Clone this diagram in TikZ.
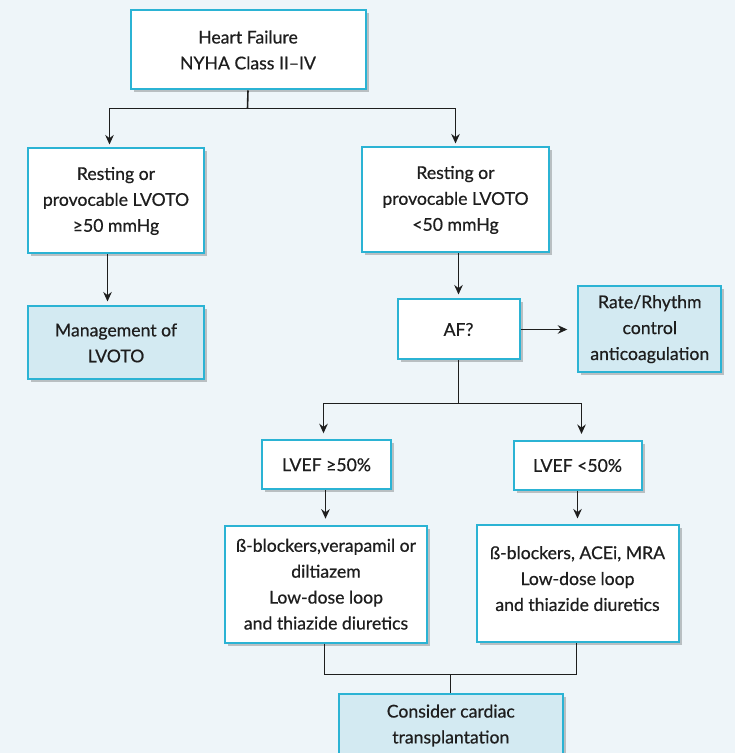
\documentclass[tikz,border=0pt]{standalone}
\usepackage{fontspec}
\setmainfont{Lato}[UprightFeatures={FakeBold=0.6}]
\usetikzlibrary{shadows,calc,arrows.meta}
\definecolor{bg}{HTML}{EEF5F9}
\definecolor{cyanb}{HTML}{2BB3D4}
\definecolor{fillb}{HTML}{D3EAF2}
\definecolor{ink}{HTML}{1E1E1E}
\begin{document}
\begin{tikzpicture}[x=1bp,y=1bp,
  box/.style={draw=cyanb, line width=2bp, fill=white, align=center, inner sep=0pt,
    font=\fontsize{17.7}{26}\selectfont, text=ink,
    drop shadow={shadow xshift=3bp, shadow yshift=-3bp, opacity=0.22, fill=black}},
  tbox/.style={box, fill=fillb},
  conn/.style={draw=ink, line width=1.6bp},
  arr/.style={conn, -{Stealth[length=9.5bp,width=8.5bp]}, shorten >=4bp}]
\clip (0,0) rectangle (735,753);
\fill[bg] (0,0) rectangle (735,753);
\useasboundingbox (0,0) rectangle (735,753);
\begin{scope}[xshift=0.5bp, yshift=-0.5bp]
\node[box, minimum width=235bp, minimum height=79bp] (top) at (247.5,703.5) {Heart Failure\\NYHA Class II--IV};
\node[box, minimum width=175bp, minimum height=105bp] (L1) at (115.5,552.5) {Resting or\\provocable LVOTO\\≥50 mmHg};
\node[box, minimum width=187bp, minimum height=105bp] (R1) at (455,553.5) {Resting or\\provocable LVOTO\\<50 mmHg};
\node[tbox, minimum width=175bp, minimum height=73bp] (M) at (115.5,410.5) {Management of\\LVOTO};
\node[box, minimum width=122bp, minimum height=60bp] (AF) at (458,424) {AF?};
\node[tbox, minimum width=143bp, minimum height=86bp] (RR) at (649.3,424.3) {Rate/Rhythm\\control\\anticoagulation};
\node[box, minimum width=129bp, minimum height=49bp] (E1) at (326,288.7) {LVEF ≥50\%};
\node[box, minimum width=128bp, minimum height=49bp] (E2) at (577,288) {LVEF <50\%};
\node[box, minimum width=202bp, minimum height=117bp] (D1) at (325.5,169.3) {ß-blockers,verapamil or\\diltiazem\\Low-dose loop\\and thiazide diuretics};
\node[box, minimum width=202bp, minimum height=117bp] (D2) at (577,169.5) {ß-blockers, ACEi, MRA\\Low-dose loop\\and thiazide diuretics\\[-15pt]};
\node[tbox, minimum width=224bp, minimum height=62bp] (CT) at (450.3,28) {Consider cardiac\\transplantation};

\coordinate (b1) at (247,645);
\coordinate (b2) at (458,350);
\coordinate (b3) at (450,79);

\draw[conn] (top.south) -- (b1);
\draw[arr, shorten >=3bp] (b1) -| ([xshift=-6.5bp]L1.north);
\draw[arr, shorten >=3bp] (b1) -| (R1.north);
\draw[arr] ([xshift=-8.5bp]L1.south) -- ([xshift=-8.5bp]M.north);
\draw[arr] (AF.north |- R1.south) -- (AF.north);
\draw[arr, shorten >=10bp] (AF.east) -- (AF.east -| RR.west);
\draw[conn] (AF.south) -- (b2);
\draw[arr, shorten >=6bp] (b2) -| ([xshift=-3bp]E1.north);
\draw[arr, shorten >=6bp] (b2) -| ([xshift=4bp]E2.north);
\draw[arr, shorten >=6bp] ([xshift=-1bp]E1.south) -- ([xshift=-1bp]E1.south |- D1.north);
\draw[arr, shorten >=6bp] (E2.south) -- (E2.south |- D2.north);
\draw[conn] ([xshift=-1.5bp]D1.south) |- (b3);
\draw[conn] ([xshift=-1bp]D2.south) |- (b3);
\draw[conn] (b3) -- (b3 |- CT.north);
\end{scope}
\end{tikzpicture}
\end{document}
